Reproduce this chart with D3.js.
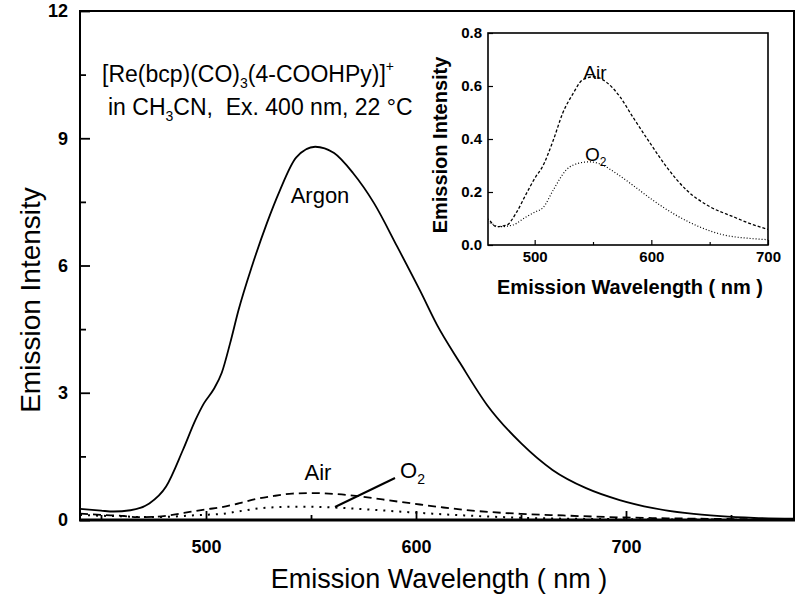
<!DOCTYPE html>
<html>
<head>
<meta charset="utf-8">
<script src="https://cdn.jsdelivr.net/npm/d3@7"></script>
<style>
  body { margin: 0; background: #fff; }
  text { font-family: "Liberation Sans", Arial, sans-serif; fill: #000; }
</style>
</head>
<body>
<div id="chart"></div>
<script>
// wavelength (nm) / intensity
const argonWl  = [440, 450, 456, 464, 473, 481, 489, 495, 499, 503.5, 507.5, 511.5, 515.5, 522, 529, 535, 543, 552, 561, 570, 580, 591, 602, 610, 621, 634, 650, 665, 681, 697, 713, 729, 745, 761, 780];
const argonVal = [0.26, 0.22, 0.2, 0.23, 0.39, 0.79, 1.65, 2.36, 2.75, 3.07, 3.47, 4.17, 4.95, 6.0, 7.0, 7.75, 8.55, 8.8, 8.65, 8.18, 7.47, 6.45, 5.4, 4.6, 3.7, 2.7, 1.81, 1.18, 0.75, 0.47, 0.28, 0.16, 0.09, 0.05, 0.03];

const airWl  = [440, 450, 461, 467, 476, 484, 493, 501, 506, 516, 524, 533, 541, 551, 561, 573, 584, 599, 613, 630, 650, 670, 684, 700, 720, 745, 780];
const airVal = [0.15, 0.12, 0.094, 0.069, 0.075, 0.12, 0.195, 0.258, 0.29, 0.396, 0.497, 0.572, 0.623, 0.635, 0.616, 0.56, 0.484, 0.384, 0.295, 0.208, 0.145, 0.107, 0.082, 0.059, 0.04, 0.025, 0.015];

const o2Wl  = [440, 450, 461, 470, 481, 493, 501, 507, 516, 527, 539, 547, 556, 570, 584, 601, 621, 641, 662, 684, 700, 725, 750, 780];
const o2Val = [0.12, 0.1, 0.085, 0.069, 0.075, 0.107, 0.126, 0.14, 0.208, 0.283, 0.31, 0.314, 0.306, 0.27, 0.226, 0.17, 0.113, 0.069, 0.038, 0.025, 0.02, 0.012, 0.008, 0.005];

const mainXTicks = [500, 600, 700];
const mainYTicks = [0, 3, 6, 9, 12];
const insetXTicks = [500, 600, 700];
const insetYTicks = [0, 0.2, 0.4, 0.6, 0.8];

const zip = (xs, ys) => xs.map((x, i) => ({ x: x, y: ys[i] }));
const argon = zip(argonWl, argonVal);
const air = zip(airWl, airVal);
const o2 = zip(o2Wl, o2Val);

const svg = d3.select("#chart").append("svg")
  .attr("width", 800).attr("height", 600);

// ---------- main plot ----------
const x = d3.scaleLinear().domain([440, 780]).range([80, 794]);
const y = d3.scaleLinear().domain([0, 12]).range([520, 11]);

const line = d3.line().x(d => x(d.x)).y(d => y(d.y)).curve(d3.curveMonotoneX);

svg.append("path").datum(argon).attr("d", line)
  .attr("fill", "none").attr("stroke", "#000").attr("stroke-width", 1.8);
svg.append("path").datum(air).attr("d", line)
  .attr("fill", "none").attr("stroke", "#000").attr("stroke-width", 1.8)
  .attr("stroke-dasharray", "8,5");
svg.append("path").datum(o2).attr("d", line)
  .attr("fill", "none").attr("stroke", "#000").attr("stroke-width", 2)
  .attr("stroke-dasharray", "2,6");

// frame
svg.append("rect").attr("x", 80).attr("y", 11).attr("width", 714).attr("height", 509)
  .attr("fill", "none").attr("stroke", "#000").attr("stroke-width", 2);
svg.append("line").attr("x1", 79).attr("x2", 795).attr("y1", 520).attr("y2", 520)
  .attr("stroke", "#000").attr("stroke-width", 3);

// axes with inward ticks
const xAxis = svg.append("g").attr("transform", "translate(0,520)")
  .call(d3.axisBottom(x).tickValues(mainXTicks).tickSize(-9).tickPadding(20));
svg.append("g").attr("transform", "translate(0,520)")
  .call(d3.axisBottom(x).tickValues([450, 550, 650, 750]).tickSize(-5).tickFormat(""));
const yAxis = svg.append("g").attr("transform", "translate(80,0)")
  .call(d3.axisLeft(y).tickValues(mainYTicks).tickSize(-10).tickPadding(12));
svg.append("g").attr("transform", "translate(80,0)")
  .call(d3.axisLeft(y).tickValues([1.5, 4.5, 7.5, 10.5]).tickSize(-6).tickFormat(""));

svg.selectAll(".domain").remove();
svg.selectAll(".tick line").attr("stroke", "#000").attr("stroke-width", 1.8);
xAxis.selectAll("text").style("font-size", "18px").style("font-weight", "bold")
  .style("font-family", "Liberation Sans, Arial, sans-serif");
yAxis.selectAll("text").style("font-size", "18px").style("font-weight", "bold")
  .style("font-family", "Liberation Sans, Arial, sans-serif");

svg.append("text").attr("x", 439).attr("y", 588).attr("text-anchor", "middle")
  .style("font-size", "27px").text("Emission Wavelength ( nm )");
svg.append("text").attr("transform", "translate(40,300) rotate(-90)").attr("text-anchor", "middle")
  .style("font-size", "28px").text("Emission Intensity");

// annotation
const t1 = svg.append("text").attr("x", 102).attr("y", 82).style("font-size", "23px");
t1.append("tspan").text("[Re(bcp)(CO)");
t1.append("tspan").attr("dy", 6).style("font-size", "14px").text("3");
t1.append("tspan").attr("dy", -6).text("(4-COOHPy)]");
t1.append("tspan").attr("dy", -11).style("font-size", "14px").text("+");

const t2 = svg.append("text").attr("x", 108).attr("y", 115).style("font-size", "23px");
t2.append("tspan").text("in CH");
t2.append("tspan").attr("dy", 6).style("font-size", "14px").text("3");
t2.append("tspan").attr("dy", -6).text("CN,\u00A0 Ex. 400 nm, 22 \u00B0C");

svg.append("text").attr("x", 320).attr("y", 203).attr("text-anchor", "middle")
  .style("font-size", "22px").text("Argon");
svg.append("text").attr("x", 318).attr("y", 480).attr("text-anchor", "middle")
  .style("font-size", "22px").text("Air");
const o2lab = svg.append("text").attr("x", 400).attr("y", 478).style("font-size", "22px");
o2lab.append("tspan").text("O");
o2lab.append("tspan").attr("dy", 6).style("font-size", "14px").text("2");
svg.append("line").attr("x1", 395).attr("y1", 478).attr("x2", 335).attr("y2", 507)
  .attr("stroke", "#000").attr("stroke-width", 2);

// ---------- inset ----------
const ix = d3.scaleLinear().domain([460, 700]).range([488, 768]);
const iy = d3.scaleLinear().domain([0, 0.8]).range([245, 33]);
const inset = svg.append("g");
inset.append("clipPath").attr("id", "iclip").append("rect")
  .attr("x", 488).attr("y", 33).attr("width", 280).attr("height", 212);

const iline = d3.line().x(d => ix(d.x)).y(d => iy(d.y)).curve(d3.curveMonotoneX);
inset.append("path").datum(air).attr("d", iline).attr("clip-path", "url(#iclip)")
  .attr("fill", "none").attr("stroke", "#000").attr("stroke-width", 1.3)
  .attr("stroke-dasharray", "3,2");
inset.append("path").datum(o2).attr("d", iline).attr("clip-path", "url(#iclip)")
  .attr("fill", "none").attr("stroke", "#000").attr("stroke-width", 1.2)
  .attr("stroke-dasharray", "1,2");

inset.append("rect").attr("x", 488).attr("y", 33).attr("width", 280).attr("height", 212)
  .attr("fill", "none").attr("stroke", "#000").attr("stroke-width", 1.6);

const ixAxis = inset.append("g").attr("transform", "translate(0,245)")
  .call(d3.axisBottom(ix).tickValues(insetXTicks).tickSize(-5).tickPadding(6));
inset.append("g").attr("transform", "translate(0,245)")
  .call(d3.axisBottom(ix).tickValues([550, 650]).tickSize(-3).tickFormat(""));
const iyAxis = inset.append("g").attr("transform", "translate(488,0)")
  .call(d3.axisLeft(iy).tickValues(insetYTicks).tickSize(-5).tickPadding(6).tickFormat(d3.format(".1f")));
inset.selectAll(".domain").remove();
inset.selectAll(".tick line").attr("stroke", "#000").attr("stroke-width", 1.2);
ixAxis.selectAll("text").style("font-size", "15px").style("font-weight", "bold")
  .style("font-family", "Liberation Sans, Arial, sans-serif");
iyAxis.selectAll("text").style("font-size", "15px").style("font-weight", "bold")
  .style("font-family", "Liberation Sans, Arial, sans-serif");

inset.append("text").attr("x", 630).attr("y", 294).attr("text-anchor", "middle")
  .style("font-size", "20px").style("font-weight", "bold").text("Emission Wavelength ( nm )");
inset.append("text").attr("transform", "translate(447,145) rotate(-90)").attr("text-anchor", "middle")
  .style("font-size", "20px").style("font-weight", "bold").text("Emission Intensity");

inset.append("text").attr("x", 595).attr("y", 79).attr("text-anchor", "middle")
  .style("font-size", "19px").text("Air");
const io2 = inset.append("text").attr("x", 585).attr("y", 161).style("font-size", "19px");
io2.append("tspan").text("O");
io2.append("tspan").attr("dy", 5).style("font-size", "12px").text("2");
</script>
</body>
</html>
